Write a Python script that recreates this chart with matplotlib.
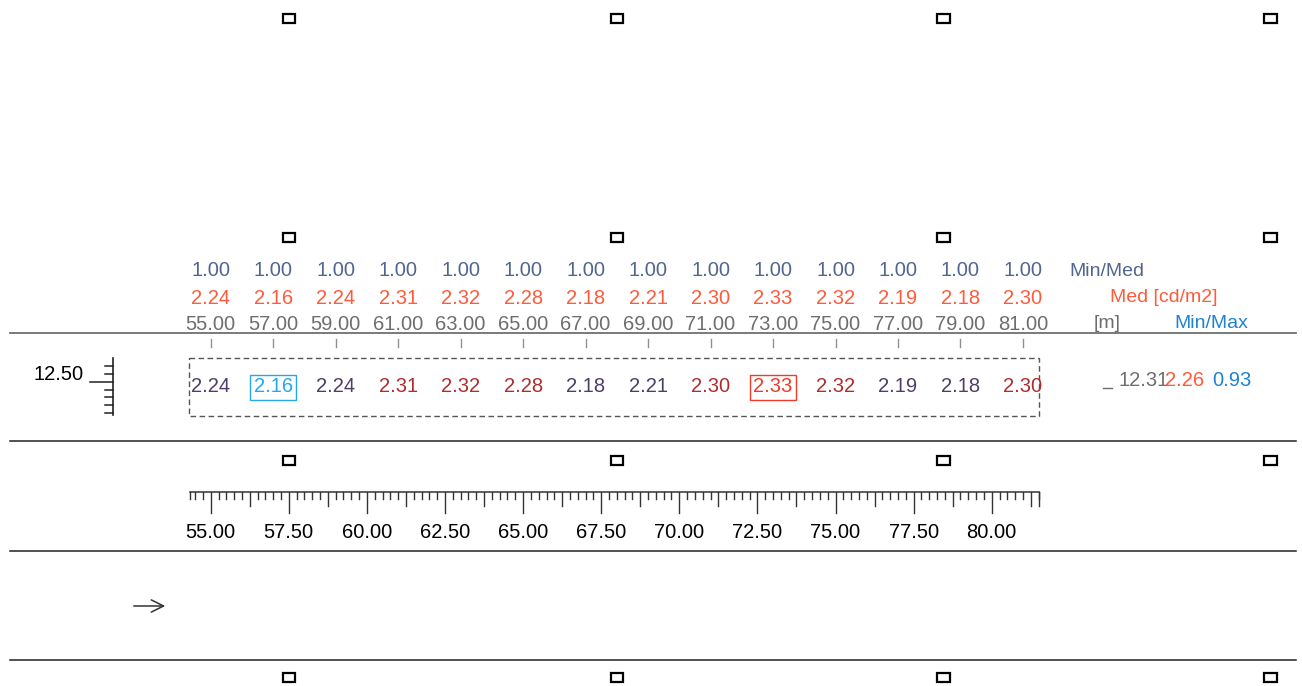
import numpy as np
import matplotlib.pyplot as plt
from matplotlib.patches import Rectangle

plt.rcParams['font.family'] = ['Liberation Sans', 'DejaVu Sans']

# Data: calculation points along x [m], row at y = 12.50 m
x_pos = [55.0, 57.0, 59.0, 61.0, 63.0, 65.0, 67.0, 69.0, 71.0, 73.0, 75.0, 77.0, 79.0, 81.0]
min_med = [1.00] * 14
med_vals = [2.24, 2.16, 2.24, 2.31, 2.32, 2.28, 2.18, 2.21, 2.30, 2.33, 2.32, 2.19, 2.18, 2.30]
row_y = 12.50
row_med = 2.26
row_minmax = 0.93
row_y_label = 12.31
ruler_labels = [55.0, 57.5, 60.0, 62.5, 65.0, 67.5, 70.0, 72.5, 75.0, 77.5, 80.0]
lamp_x = [57.5, 68.0, 78.46, 88.93]

# colours
c_minmed = '#51668f'
c_med = '#ff5b3a'
c_x = '#6e6e6e'
c_minmax = '#1f82d2'
c_low = '#4e3d6b'
c_high = '#b02d2d'
c_min_hl = '#22a7f0'
c_max_hl = '#f03a2a'

# scale: 31.24 px per metre, x=55 m at px 210.7
px_m = 31.24
fig = plt.figure(figsize=(13.02, 6.86), dpi=100)
ax = fig.add_axes([0, 0, 1, 1])
ax.set_xlim(55 - 210.7 / px_m, 55 + (1302 - 210.7) / px_m)
ax.set_ylim(686, 0)  # vertical layout in pixels
ax.axis('off')

fs = 14.5
fs_lab = 14

# header rows
for x, a, m in zip(x_pos, min_med, med_vals):
    ax.text(x, 271, f'{a:.2f}', color=c_minmed, fontsize=fs, ha='center', va='center')
    ax.text(x, 298, f'{m:.2f}', color=c_med, fontsize=fs, ha='center', va='center')
    ax.text(x, 324, f'{x:.2f}', color=c_x, fontsize=fs, ha='center', va='center')
    ax.plot([x, x], [339, 347], color='#909090', lw=1)

ax.text(81.0 + 1.5, 271, 'Min/Med', color=c_minmed, fontsize=fs_lab, ha='left', va='center')
ax.text(81.0 + 2.8, 298, 'Med [cd/m2]', color=c_med, fontsize=fs_lab, ha='left', va='center')
ax.text(81.0 + 2.25, 324, '[m]', color=c_x, fontsize=fs_lab, ha='left', va='center')
ax.text(81.0 + 4.85, 324, 'Min/Max', color=c_minmax, fontsize=fs_lab, ha='left', va='center')

# horizontal separators
x0 = ax.get_xlim()[0] + 10 / px_m
x1 = ax.get_xlim()[0] + 1296 / px_m
ax.plot([x0, x1], [333, 333], color='#707070', lw=1.3)
for yy in [441, 551, 660]:
    ax.plot([x0, x1], [yy, yy], color='#222222', lw=1.1)

# lamp markers
for yy in [18, 237, 460, 677]:
    for lx in lamp_x:
        ax.add_patch(Rectangle((lx - 0.2, yy - 4.5), 0.4, 9.5, fill=False,
                               edgecolor='black', lw=1.6))

# calculation field (dashed box)
ax.add_patch(Rectangle((54.31, 358), 81.52 - 54.31, 58, fill=False,
                       edgecolor='#555555', lw=1, ls=(0, (4, 2.5))))

# grid values
imin = int(np.argmin(med_vals))
imax = int(np.argmax(med_vals))
for i, (x, v) in enumerate(zip(x_pos, med_vals)):
    col = c_high if v >= row_med else c_low
    if i == imin:
        col = c_min_hl
    elif i == imax:
        col = c_max_hl
    ax.text(x, 387, f'{v:.2f}', color=col, fontsize=fs, ha='center', va='center')
    if i in (imin, imax):
        ax.add_patch(Rectangle((x - 0.73, 375), 1.46, 25, fill=False,
                               edgecolor=col, lw=1))

# row summary on the right
ax.plot([81.0 + 2.56, 81.0 + 2.86], [388, 388], color=c_x, lw=1)
ax.text(81.0 + 3.05, 381, f'{row_y_label:.2f}', color=c_x, fontsize=fs, ha='left', va='center')
ax.text(81.0 + 4.55, 381, f'{row_med:.2f}', color=c_med, fontsize=fs, ha='left', va='center')
ax.text(81.0 + 6.05, 381, f'{row_minmax:.2f}', color=c_minmax, fontsize=fs, ha='left', va='center')

# vertical scale on the left
vx = 55 + (113 - 210.7) / px_m
y_tick_px = 381.7
ax.plot([vx, vx], [358, 415], color='#222222', lw=1.2)
for k in range(-2, 5):
    yy = y_tick_px + k * 0.25 * px_m
    if k == 0:
        ax.plot([vx - 23 / px_m, vx], [yy, yy], color='#222222', lw=1.1)
    else:
        ax.plot([vx - 8 / px_m, vx], [yy, yy], color='#222222', lw=1.1)
ax.text(vx - 29 / px_m, 375, f'{row_y:.2f}', color='black', fontsize=fs, ha='right', va='center')

# horizontal ruler
r0, r1 = 54.33, 81.5
base = 491.7
ax.plot([r0, r1], [base, base], color='#333333', lw=1.1)
for t in np.arange(54.5, 81.5 + 1e-6, 0.25):
    if abs(t / 2.5 - round(t / 2.5)) < 1e-6:
        ln = 21
    elif abs(t / 1.25 - round(t / 1.25)) < 1e-6:
        ln = 14
    else:
        ln = 7
    ax.plot([t, t], [base, base + ln], color='#333333', lw=1)
ax.plot([r0, r0], [base, base + 7], color='#333333', lw=1)
ax.plot([r1, r1], [base, base + 14], color='#333333', lw=1)
for t in ruler_labels:
    ax.text(t, 533, f'{t:.2f}', color='black', fontsize=fs, ha='center', va='center')

# direction arrow
ax.annotate('', xy=(55 + (168 - 210.7) / px_m, 606), xytext=(55 + (131 - 210.7) / px_m, 606),
            arrowprops=dict(arrowstyle='->', color='#333333', lw=1.1, mutation_scale=22))

fig.savefig('out.png', dpi=100)
